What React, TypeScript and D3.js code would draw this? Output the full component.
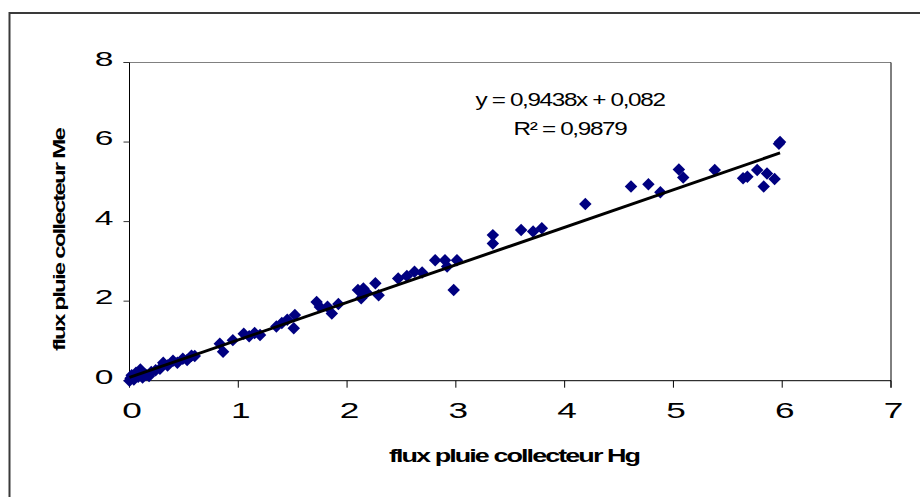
import React from "react";
import * as d3 from "d3";

const hgFlux = [0.0, 0.01, 0.02, 0.04, 0.06, 0.08, 0.1, 0.12, 0.15, 0.18, 0.2, 0.24, 0.28, 0.31, 0.35, 0.4, 0.44, 0.49, 0.53, 0.57, 0.6,
  0.83, 0.86, 0.95, 1.05, 1.1, 1.15, 1.2, 1.35, 1.4, 1.45, 1.52, 1.51, 1.72, 1.75, 1.82, 1.86, 1.92,
  2.1, 2.15, 2.13, 2.18, 2.26, 2.29, 2.47, 2.55, 2.62, 2.69, 2.81, 2.9, 2.92, 3.01, 2.98,
  3.34, 3.34, 3.6, 3.71, 3.79, 4.19, 4.61, 4.77, 4.88, 5.05, 5.09, 5.38, 5.64, 5.68, 5.77, 5.86, 5.83, 5.93, 5.97, 5.98];
const meFlux = [0.0, 0.06, 0.14, 0.03, 0.2, 0.1, 0.28, 0.08, 0.15, 0.12, 0.22, 0.26, 0.3, 0.45, 0.38, 0.5, 0.45, 0.55, 0.52, 0.63, 0.62,
  0.93, 0.73, 1.02, 1.18, 1.12, 1.2, 1.15, 1.36, 1.45, 1.53, 1.65, 1.32, 1.98, 1.85, 1.86, 1.69, 1.93,
  2.28, 2.32, 2.07, 2.22, 2.45, 2.15, 2.57, 2.63, 2.74, 2.72, 3.03, 3.03, 2.87, 3.03, 2.28,
  3.66, 3.45, 3.79, 3.75, 3.83, 4.44, 4.88, 4.94, 4.74, 5.31, 5.11, 5.3, 5.09, 5.13, 5.3, 5.21, 4.88, 5.07, 5.96, 6.0];

const xTicks = [0, 1, 2, 3, 4, 5, 6, 7];
const yTicks = [0, 2, 4, 6, 8];
const slope = 0.9438;
const intercept = 0.082;
const eqLine1 = "y = 0,9438x + 0,082";
const eqLine2 = "R² = 0,9879";
const xTitle = "flux pluie collecteur Hg";
const yTitle = "flux pluie collecteur Me";

export default function App() {
  const left = 129.5, right = 891, top = 62.5, bottom = 380.7;
  const x = d3.scaleLinear().domain([0, 7]).range([left, right]);
  const y = d3.scaleLinear().domain([0, 8]).range([bottom, top]);
  const font = "'Liberation Sans', Arial, sans-serif";
  const xMax = d3.max(hgFlux) as number;
  const trend = d3.line<number>().x((d) => x(d)).y((d) => y(slope * d + intercept))([0, xMax]) || "";
  const diamond = d3.symbol().type(d3.symbolSquare).size(78)() || "";

  return (
    <svg width={920} height={497} style={{ position: "absolute", left: 0, top: 0, background: "#fff" }}>
      <rect x={0} y={0} width={920} height={497} fill="#fff" />
      <rect x={9.5} y={13} width={940} height={520} fill="none" stroke="#3a3a3a" strokeWidth={2} />
      {/* plot border */}
      <line x1={left - 6} x2={right} y1={top} y2={top} stroke="#808080" strokeWidth={1} />
      <line x1={right} x2={right} y1={top} y2={bottom + 7} stroke="#000" strokeWidth={1} />
      {/* axes */}
      <line x1={left} x2={left} y1={top} y2={bottom} stroke="#000" strokeWidth={1} />
      <line x1={left} x2={right} y1={bottom} y2={bottom} stroke="#000" strokeWidth={1} />
      {yTicks.map((t) => (
        <g key={"y" + t}>
          <line x1={left - 6} x2={left} y1={y(t)} y2={y(t)} stroke="#333" strokeWidth={1} />
          <text transform={`translate(${left - 16},${y(t) + 3}) scale(1.6,1)`} textAnchor="end" fontFamily={font} fontSize={21} fill="#000">
            {t}
          </text>
        </g>
      ))}
      {xTicks.map((t) => (
        <g key={"x" + t}>
          <line x1={x(t)} x2={x(t)} y1={bottom} y2={bottom + 7} stroke="#000" strokeWidth={1} />
          <text transform={`translate(${x(t) + 2.5},${bottom + 37}) scale(1.6,1)`} textAnchor="middle" fontFamily={font} fontSize={22} fill="#000">
            {t}
          </text>
        </g>
      ))}
      {/* points */}
      {hgFlux.map((v, i) => (
        <path key={i} d={diamond} transform={`translate(${x(v)},${y(meFlux[i])}) rotate(45)`} fill="#000080" />
      ))}
      <path d={trend} stroke="#000" strokeWidth={3} fill="none" />
      {/* equation */}
      <text transform={`translate(570,106) scale(1.35,1)`} textAnchor="middle" fontFamily={font} fontSize={18} letterSpacing={-1} fill="#000">
        {eqLine1}
      </text>
      <text transform={`translate(570,135) scale(1.35,1)`} textAnchor="middle" fontFamily={font} fontSize={18} letterSpacing={-1} fill="#000">
        {eqLine2}
      </text>
      {/* titles */}
      <text transform={`translate(514,462) scale(1.5,1)`} textAnchor="middle" fontFamily={font} fontWeight="bold" fontSize={18} letterSpacing={-1.3} fill="#000">
        {xTitle}
      </text>
      <text transform={`translate(65,240) rotate(-90) scale(1.5,1)`} textAnchor="middle" fontFamily={font} fontWeight="bold" fontSize={16} letterSpacing={-1.2} fill="#000">
        {yTitle}
      </text>
    </svg>
  );
}
